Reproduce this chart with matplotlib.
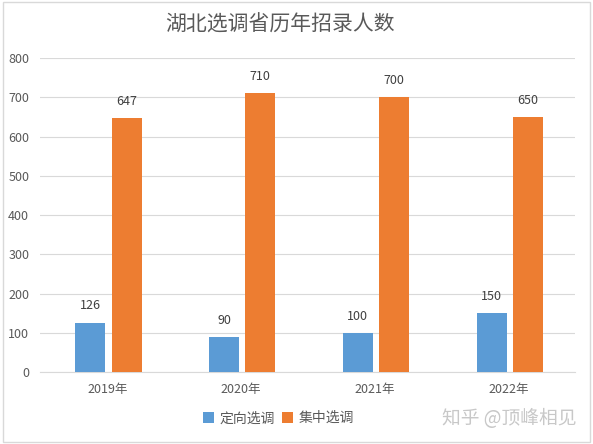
import matplotlib
matplotlib.use("Agg")
import matplotlib.pyplot as plt
import numpy as np
from matplotlib.patches import Rectangle

plt.rcParams['font.family'] = ['Noto Sans CJK SC', 'DejaVu Sans']

categories = ['2019年', '2020年', '2021年', '2022年']
dingxiang = [126, 90, 100, 150]
jizhong = [647, 710, 700, 650]
series_names = ['定向选调', '集中选调']
yticks = [0, 100, 200, 300, 400, 500, 600, 700, 800]

blue = '#5B9BD5'
orange = '#ED7D31'
gray = '#595959'

fig = plt.figure(figsize=(5.93, 4.44), dpi=100)
ax = fig.add_axes([0.068, 0.162, 0.902, 0.707])

x = np.arange(len(categories))
w = 0.224
off = 0.135
b1 = ax.bar(x - off + 0.01, dingxiang, w, color=blue, label=series_names[0], zorder=3)
b2 = ax.bar(x + off + 0.01, jizhong, w, color=orange, label=series_names[1], zorder=3)

for bars, vals in ((b1, dingxiang), (b2, jizhong)):
    for r, v in zip(bars, vals):
        ax.annotate(str(v), (r.get_x() + r.get_width() / 2, v), xytext=(0, 12),
                    textcoords='offset points', ha='center', va='center',
                    fontsize=9, color='#404040')

ax.set_xlim(-0.5, len(categories) - 0.5)
ax.set_ylim(0, 800)
ax.set_yticks(yticks)
ax.set_xticks(x)
ax.set_xticklabels(categories)
ax.tick_params(axis='both', length=0, labelsize=9, colors=gray)
ax.tick_params(axis='x', pad=8)
ax.tick_params(axis='y', pad=8)
ax.yaxis.grid(True, color='#D9D9D9', linewidth=0.8, zorder=0)
for s in ['top', 'right', 'left']:
    ax.spines[s].set_visible(False)
ax.spines['bottom'].set_color('#D9D9D9')
ax.spines['bottom'].set_linewidth(0.8)

fig.text(0.472, 0.945, '湖北选调省历年招录人数', ha='center', va='center',
         fontsize=15, color=gray)

leg = fig.legend(handles=[b1, b2], labels=series_names, loc='center',
                 bbox_to_anchor=(0.47, 0.058), ncol=2, frameon=False,
                 fontsize=10, handlelength=0.8, handleheight=0.8,
                 handletextpad=0.4, columnspacing=0.5, labelcolor=gray)

fig.text(0.972, 0.058, '知乎 @顶峰相见', ha='right', va='center',
         fontsize=13.5, color='#C8C8C8')

fig.patches.append(Rectangle((0.005, 0.005), 0.99, 0.99, transform=fig.transFigure,
                             fill=False, edgecolor='#D9D9D9', linewidth=1))

fig.savefig('out.png', dpi=100)
